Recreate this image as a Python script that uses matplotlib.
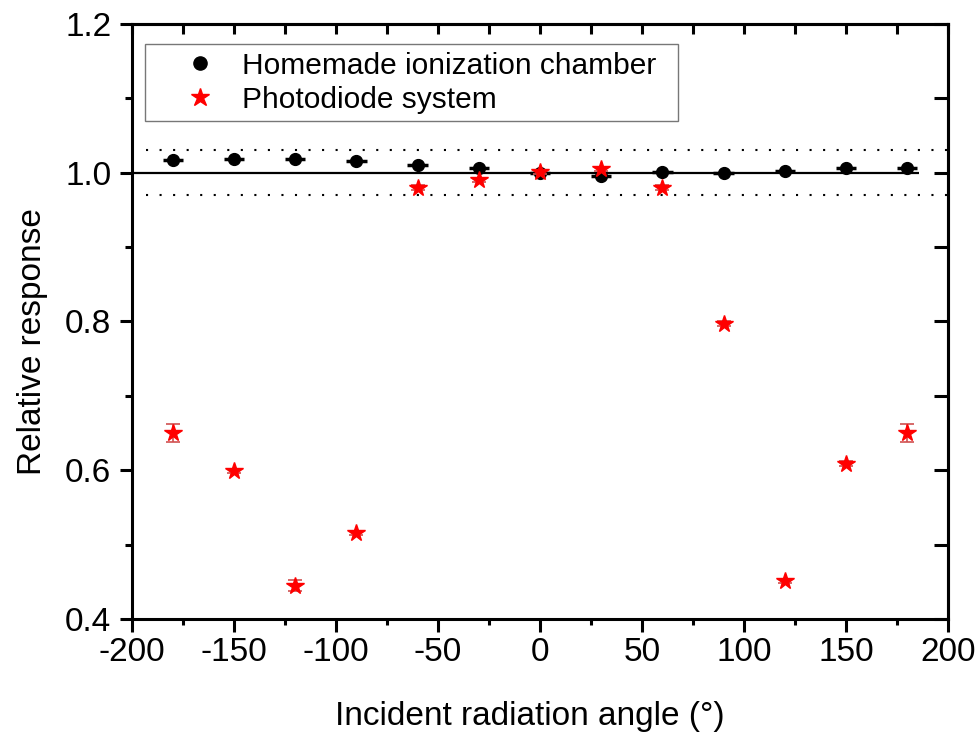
import matplotlib
matplotlib.use('Agg')
import matplotlib.pyplot as plt
from matplotlib.ticker import MultipleLocator
from matplotlib.lines import Line2D

plt.rcParams['font.family'] = ['Liberation Sans', 'DejaVu Sans']
plt.rcParams['axes.unicode_minus'] = False

# Data
angles = [-180, -150, -120, -90, -60, -30, 0, 30, 60, 90, 120, 150, 180]
chamber = [1.017, 1.018, 1.019, 1.016, 1.011, 1.006, 1.000, 0.995, 1.001, 1.000, 1.003, 1.007, 1.007]
chamber_xerr = [5] * 13
chamber_yerr = [0.005] * 13
diode = [0.650, 0.599, 0.445, 0.516, 0.980, 0.990, 1.001, 1.005, 0.980, 0.797, 0.451, 0.609, 0.650]
diode_err = [0.012, 0.003, 0.008, 0.003, 0.003, 0.003, 0.003, 0.003, 0.003, 0.003, 0.003, 0.003, 0.012]

fig = plt.figure(figsize=(9.79, 7.33), dpi=100)
ax = fig.add_axes([0.1348, 0.1555, 0.8335, 0.8118])

# reference line and +-3% band
ax.hlines(1.0, -200, 186, colors='black', linewidth=1.6, zorder=1)
ax.hlines([1.03, 0.97], -193, 200, colors='black', linewidth=1.5,
          linestyles=(0, (1, 5.5)), zorder=1)

ax.errorbar(angles, chamber, xerr=chamber_xerr, yerr=chamber_yerr, fmt='o',
            color='black', markersize=8.5, elinewidth=2.5, capsize=0, zorder=3)
ax.errorbar(angles, diode, yerr=diode_err, fmt='*', color='red',
            ecolor='#d05050', markersize=13, elinewidth=1.2, capsize=5,
            capthick=1.2, zorder=4)

ax.set_xlim(-200, 200)
ax.set_ylim(0.4, 1.2)
ax.xaxis.set_major_locator(MultipleLocator(50))
ax.xaxis.set_minor_locator(MultipleLocator(25))
ax.yaxis.set_major_locator(MultipleLocator(0.2))
ax.yaxis.set_minor_locator(MultipleLocator(0.1))
ax.yaxis.set_major_formatter(plt.FormatStrFormatter('%.1f'))

for s in ax.spines.values():
    s.set_linewidth(2.2)

ax.tick_params(which='both', width=2.2, labelsize=24)
ax.tick_params(axis='x', which='major', direction='out', length=9, pad=4)
ax.tick_params(axis='x', which='minor', direction='out', length=4.5)
ax.tick_params(axis='y', which='major', direction='out', length=9, pad=6)
ax.tick_params(axis='y', which='minor', direction='out', length=5)

# top and right ticks point inward
top = ax.secondary_xaxis('top')
top.xaxis.set_major_locator(MultipleLocator(50))
top.xaxis.set_minor_locator(MultipleLocator(25))
top.tick_params(which='both', direction='in', length=7, width=2.2, labeltop=False)
right = ax.secondary_yaxis('right')
right.yaxis.set_major_locator(MultipleLocator(0.1))
right.yaxis.set_minor_locator(MultipleLocator(0.1))
right.tick_params(which='both', direction='in', length=10, width=2.2, labelright=False)
top.spines['top'].set_linewidth(2.2)
right.spines['right'].set_linewidth(2.2)

ax.set_xlabel('Incident radiation angle (°)', fontsize=24, labelpad=24)
ax.xaxis.label.set_x(0.487)
ax.set_ylabel('Relative response', fontsize=24, labelpad=12)
ax.yaxis.label.set_y(0.467)

handles = [
    Line2D([], [], marker='o', color='black', linestyle='none', markersize=9.5),
    Line2D([], [], marker='*', color='red', linestyle='none', markersize=13.5),
]
labels = ['Homemade ionization chamber', 'Photodiode system']
leg = ax.legend(handles, labels, loc='upper left',
                bbox_to_anchor=(0.0159, 0.5, 0.653, 0.4659), mode='expand',
                fontsize=21.5, frameon=True, fancybox=False, edgecolor='#555555',
                borderpad=0.25, labelspacing=0.2, handlelength=3.2,
                handletextpad=-0.2, borderaxespad=0)
leg.get_frame().set_linewidth(1.0)

fig.savefig('out.png', dpi=100)
